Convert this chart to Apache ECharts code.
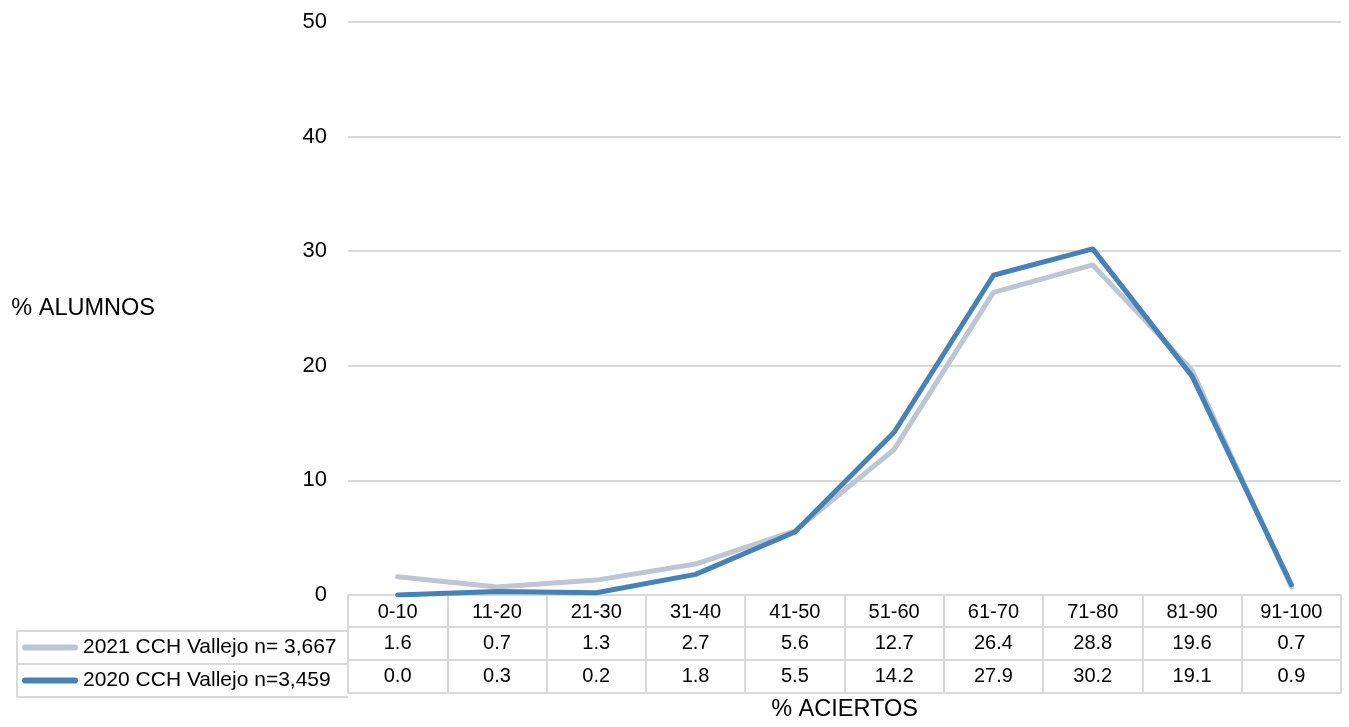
<!DOCTYPE html>
<html>
<head>
<meta charset="utf-8">
<script src="https://cdn.jsdelivr.net/npm/echarts@6/dist/echarts.min.js"></script>
<style>
html,body{margin:0;padding:0;background:#fff;}
#chart{width:1349px;height:727px;}
</style>
</head>
<body>
<div id="chart"></div>
<script>
const categories = ['0-10','11-20','21-30','31-40','41-50','51-60','61-70','71-80','81-90','91-100'];
const name2021 = '2021 CCH Vallejo n= 3,667';
const name2020 = '2020 CCH Vallejo n=3,459';
const values2021 = [1.6, 0.7, 1.3, 2.7, 5.6, 12.7, 26.4, 28.8, 19.6, 0.7];
const values2020 = [0.0, 0.3, 0.2, 1.8, 5.5, 14.2, 27.9, 30.2, 19.1, 0.9];
const yTicks = {min: 0, max: 50, interval: 10};
const yName = '% ALUMNOS';
const xName = '% ACIERTOS';

const FONT = "'Liberation Sans', Arial, sans-serif";
const GRID_COLOR = '#D9D9D9';
const C2021 = '#BEC5D3';
const C2020 = '#4682B6';

const chart = echarts.init(document.getElementById('chart'));

const gridLeft = 348, gridRight = 8, gridTop = 22, gridBottom = 128;
const row1 = 32, row2 = 65, row3 = 98;
const legendLeft = 17;

function hLine(y){
  return {type:'line', shape:{x1:legendLeft, y1:y, x2:gridLeft, y2:y}, style:{stroke:GRID_COLOR, lineWidth:2}, silent:true};
}
const baseY = 727 - gridBottom;

const option = {
  backgroundColor: '#fff',
  animation: false,
  textStyle: {fontFamily: FONT},
  grid: {left: gridLeft, right: gridRight, top: gridTop, bottom: gridBottom, containLabel: false},
  legend: {
    orient: 'vertical',
    left: 22, top: baseY + row1,
    padding: 0,
    itemGap: 0,
    itemWidth: 56, itemHeight: 6,
    icon: 'path://M3,0 L53,0 A3,3 0 0 1 53,6 L3,6 A3,3 0 0 1 3,0 Z',
    textStyle: {fontFamily: FONT, fontSize: 21, color: '#000', lineHeight: 33, height: 33},
    data: [
      {name: name2021, itemStyle: {color: C2021}},
      {name: name2020, itemStyle: {color: C2020}}
    ],
    selectedMode: false
  },
  xAxis: [
    {
      type: 'category', data: categories, boundaryGap: true, gridIndex: 0,
      axisLine: {show: true, lineStyle: {color: GRID_COLOR, width: 2}},
      axisTick: {show: true, length: row3, interval: 0, lineStyle: {color: GRID_COLOR, width: 2}},
      axisLabel: {fontFamily: FONT, fontSize: 20, color: '#000', margin: 17, verticalAlign: 'middle', interval: 0}
    },
    {
      type: 'category', data: categories, boundaryGap: true, position: 'bottom', offset: row1,
      axisLine: {show: true, lineStyle: {color: GRID_COLOR, width: 2}},
      axisTick: {show: false},
      axisLabel: {fontFamily: FONT, fontSize: 20, color: '#000', margin: 16, verticalAlign: 'middle', interval: 0,
        formatter: (v, i) => values2021[i].toFixed(1)}
    },
    {
      type: 'category', data: categories, boundaryGap: true, position: 'bottom', offset: row2,
      axisLine: {show: true, lineStyle: {color: GRID_COLOR, width: 2}},
      axisTick: {show: false},
      axisLabel: {fontFamily: FONT, fontSize: 20, color: '#000', margin: 16, verticalAlign: 'middle', interval: 0,
        formatter: (v, i) => values2020[i].toFixed(1)}
    },
    {
      type: 'category', data: categories, boundaryGap: true, position: 'bottom', offset: row3,
      axisLine: {show: true, lineStyle: {color: GRID_COLOR, width: 2}},
      axisTick: {show: false},
      axisLabel: {show: false},
      name: xName, nameLocation: 'middle', nameGap: 17,
      nameTextStyle: {fontFamily: FONT, fontSize: 23.5, color: '#000', verticalAlign: 'middle'}
    }
  ],
  yAxis: {
    type: 'value', min: yTicks.min, max: yTicks.max, interval: yTicks.interval,
    axisLine: {show: false}, axisTick: {show: false},
    splitLine: {show: true, lineStyle: {color: GRID_COLOR, width: 2}},
    axisLabel: {fontFamily: FONT, fontSize: 22, color: '#000', margin: 21},
    name: yName, nameLocation: 'middle', nameRotate: 0, nameGap: 193,
    nameTextStyle: {fontFamily: FONT, fontSize: 23.5, color: '#000', align: 'right', verticalAlign: 'middle'}
  },
  series: [
    {
      name: name2021, type: 'line', data: values2021, xAxisIndex: 0,
      symbol: 'none', smooth: false,
      lineStyle: {color: C2021, width: 5, cap: 'round', join: 'round'},
      itemStyle: {color: C2021}
    },
    {
      name: name2020, type: 'line', data: values2020, xAxisIndex: 0,
      symbol: 'none', smooth: false,
      lineStyle: {color: C2020, width: 5, cap: 'round', join: 'round'},
      itemStyle: {color: C2020}
    }
  ],
  graphic: [
    hLine(baseY + row1), hLine(baseY + row2), hLine(baseY + row3),
    {type:'line', shape:{x1:legendLeft, y1:baseY + row1, x2:legendLeft, y2:baseY + row3}, style:{stroke:GRID_COLOR, lineWidth:2}, silent:true}
  ]
};
chart.setOption(option);
</script>
</body>
</html>
